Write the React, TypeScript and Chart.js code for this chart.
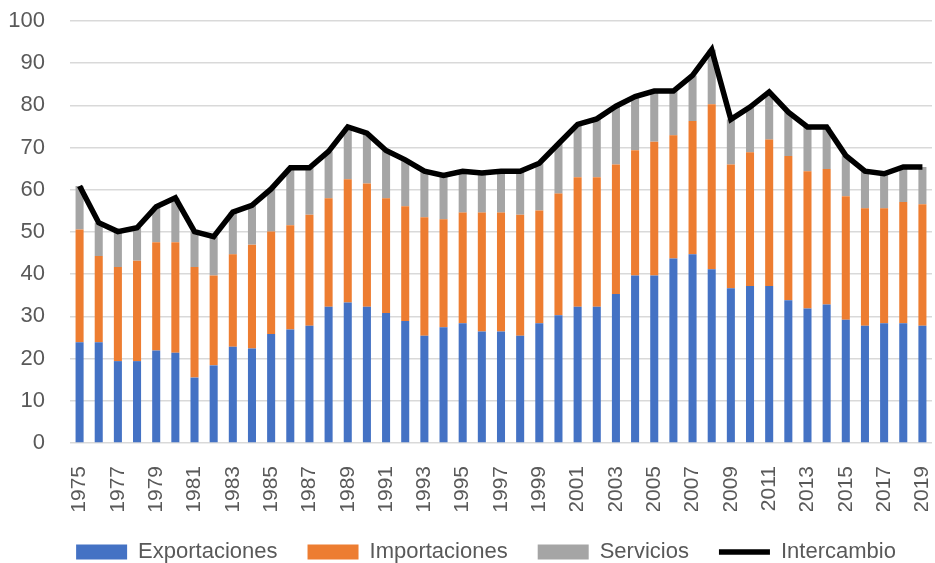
import React, { useEffect, useRef } from 'react';
import { Chart, registerables } from 'chart.js';

Chart.register(...registerables);

const years = [
  '1975', '1976', '1977', '1978', '1979', '1980', '1981', '1982', '1983', '1984',
  '1985', '1986', '1987', '1988', '1989', '1990', '1991', '1992', '1993', '1994',
  '1995', '1996', '1997', '1998', '1999', '2000', '2001', '2002', '2003', '2004',
  '2005', '2006', '2007', '2008', '2009', '2010', '2011', '2012', '2013', '2014',
  '2015', '2016', '2017', '2018', '2019',
];

const exportaciones = [
  23.9, 23.9, 19.4, 19.4, 21.9, 21.4, 15.5, 18.4, 22.8, 22.4,
  25.8, 26.9, 27.8, 32.3, 33.3, 32.3, 30.8, 28.9, 25.4, 27.4,
  28.4, 26.4, 26.4, 25.4, 28.4, 30.3, 32.3, 32.3, 35.3, 39.7,
  39.7, 43.7, 44.7, 41.2, 36.7, 37.2, 37.2, 33.8, 31.9, 32.8,
  29.2, 27.8, 28.4, 28.4, 27.8,
];

const importaciones = [
  26.7, 20.4, 22.3, 23.8, 25.7, 26.2, 26.2, 21.3, 21.9, 24.6,
  24.3, 24.7, 26.3, 25.7, 29.2, 29.2, 27.2, 27.2, 28.1, 25.6,
  26.2, 28.2, 28.2, 28.7, 26.7, 28.8, 30.7, 30.7, 30.7, 29.7,
  31.7, 29.2, 31.6, 39.1, 29.3, 31.7, 34.7, 34.2, 32.5, 32.1,
  29.3, 27.8, 27.2, 28.7, 28.8,
];

const servicios = [
  10.3, 7.9, 8.4, 7.8, 8.4, 10.5, 8.4, 9.2, 10.0, 9.3,
  10.1, 13.6, 11.1, 11.1, 12.4, 11.9, 11.3, 11.0, 10.9, 10.4,
  9.8, 9.4, 9.8, 10.3, 11.2, 11.8, 12.5, 13.8, 13.8, 12.7,
  12.0, 10.5, 10.8, 12.9, 10.7, 10.7, 11.3, 10.4, 10.5, 10.0,
  9.6, 8.8, 8.2, 8.3, 8.8,
];

const intercambio = [
  60.9, 52.2, 50.1, 51.0, 56.0, 58.1, 50.1, 48.9, 54.7, 56.3,
  60.2, 65.2, 65.2, 69.1, 74.9, 73.4, 69.3, 67.1, 64.4, 63.4,
  64.4, 64.0, 64.4, 64.4, 66.3, 70.9, 75.5, 76.8, 79.8, 82.1,
  83.4, 83.4, 87.1, 93.2, 76.7, 79.6, 83.2, 78.4, 74.9, 74.9,
  68.1, 64.4, 63.8, 65.4, 65.4,
];

const yTicks = [0, 10, 20, 30, 40, 50, 60, 70, 80, 90, 100];

const FONT = "'Liberation Sans', Arial, sans-serif";
const TEXT = '#595959';

const legendShift = {
  id: 'legendShift',
  afterLayout(chart: any) {
    const lg = chart.legend;
    if (lg) {
      lg.left += 20;
      lg.right += 20;
    }
  },
};

export default function App() {
  const ref = useRef<HTMLCanvasElement>(null);

  useEffect(() => {
    if (!ref.current) return;
    const chart = new Chart(ref.current, {
      type: 'bar',
      plugins: [legendShift],
      data: {
        labels: years,
        datasets: [
          {
            type: 'line',
            label: 'Intercambio',
            data: intercambio,
            borderColor: '#000000',
            backgroundColor: '#000000',
            borderWidth: 5.5,
            pointRadius: 0,
            fill: false,
            tension: 0,
            order: 0,
            stack: 'total',
          } as any,
          {
            label: 'Exportaciones',
            data: exportaciones,
            backgroundColor: '#4472C4',
            order: 1,
            stack: 'comercio',
          },
          {
            label: 'Importaciones',
            data: importaciones,
            backgroundColor: '#ED7D31',
            order: 1,
            stack: 'comercio',
          },
          {
            label: 'Servicios',
            data: servicios,
            backgroundColor: '#A5A5A5',
            order: 1,
            stack: 'comercio',
          },
        ],
      },
      options: {
        animation: false,
        responsive: false,
        devicePixelRatio: 1,
        layout: { padding: { left: 0, right: 3, top: 0, bottom: -10 } },
        datasets: {
          bar: { categoryPercentage: 1, barPercentage: 0.42 },
        },
        plugins: {
          tooltip: { enabled: false },
          legend: {
            position: 'bottom',
            labels: {
              usePointStyle: true,
              pointStyleWidth: 51,
              boxHeight: 15,
              padding: 30,
              color: TEXT,
              font: { family: FONT, size: 22 },
              generateLabels: (c: any) => {
                const idx = [1, 2, 3, 0];
                return idx.map((i) => {
                  const ds: any = c.data.datasets[i];
                  const isLine = i === 0;
                  return {
                    text: ds.label,
                    fillStyle: isLine ? '#000000' : ds.backgroundColor,
                    strokeStyle: '#000000',
                    lineWidth: isLine ? 5.5 : 0,
                    pointStyle: isLine ? 'line' : 'rect',
                    hidden: false,
                    datasetIndex: i,
                    fontColor: TEXT,
                  };
                });
              },
            },
          },
        },
        scales: {
          x: {
            stacked: true,
            grid: { display: false },
            border: { display: false },
            afterFit: (s: any) => {
              s.height = 68;
              s.paddingLeft = 0;
              s.paddingRight = 0;
            },
            ticks: {
              autoSkip: false,
              maxRotation: 90,
              minRotation: 90,
              padding: 15,
              color: TEXT,
              font: { family: FONT, size: 21 },
              callback: (_v: any, i: number) => (i % 2 === 0 ? years[i] : ''),
            },
          },
          y: {
            stacked: true,
            min: 0,
            max: 100,
            afterFit: (s: any) => {
              s.width = 70;
              s.paddingTop = 21;
            },
            afterBuildTicks: (s: any) => {
              s.ticks = yTicks.map((v) => ({ value: v }));
            },
            grid: { color: '#D9D9D9', lineWidth: 1.5, drawTicks: false },
            border: { display: false },
            ticks: {
              padding: 25,
              color: TEXT,
              font: { family: FONT, size: 22 },
            },
          },
        },
      },
    });
    return () => chart.destroy();
  }, []);

  return (
    <div style={{ position: 'fixed', left: 0, top: 0, width: 935, height: 563, background: '#ffffff' }}>
      <canvas ref={ref} width={935} height={563} style={{ width: 935, height: 563, display: 'block' }} />
    </div>
  );
}
